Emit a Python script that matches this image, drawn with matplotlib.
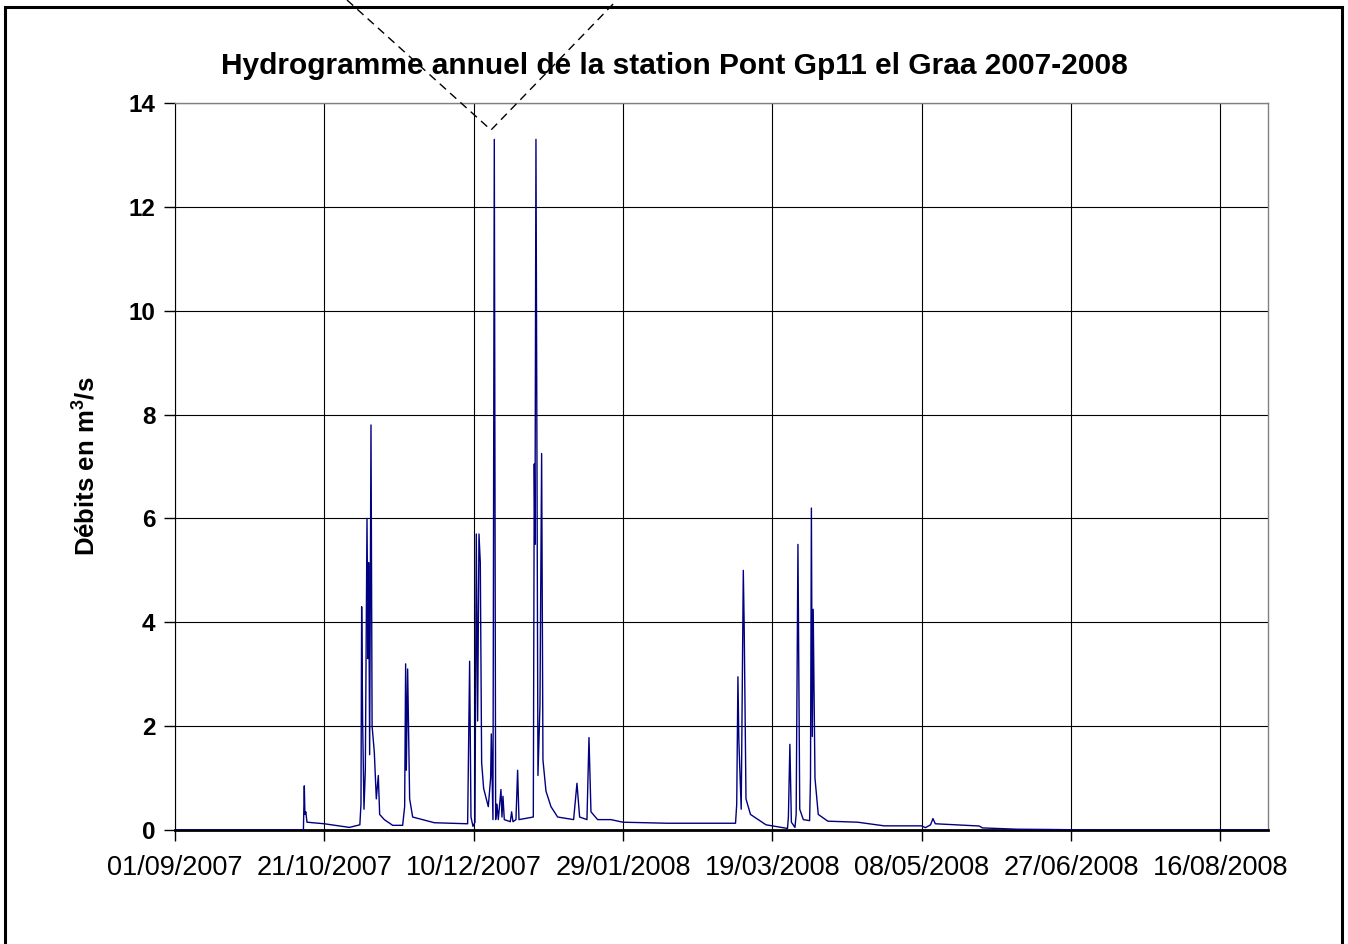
import matplotlib
matplotlib.use('Agg')
import matplotlib.pyplot as plt
import matplotlib.dates as mdates
from matplotlib.lines import Line2D
from matplotlib.patches import Rectangle
import pandas as pd

plt.rcParams['font.family'] = ['Liberation Sans', 'DejaVu Sans']
plt.rcParams['mathtext.fontset'] = 'custom'
plt.rcParams['mathtext.bf'] = 'Liberation Sans:bold'
plt.rcParams['mathtext.rm'] = 'Liberation Sans'

# ── DATA ───────────────────────────────────────────────
start = pd.Timestamp('2007-09-01')
end = pd.Timestamp('2008-09-01')

# time in days since 01/09/2007 (flood events have several readings per day)
days = [0, 43.0, 43.3, 43.5, 43.8, 44.2, 50, 58.4, 61.9,
        62.28, 62.5, 62.83, 63.28, 63.73, 64.29, 64.62, 64.84, 65.18, 65.63,
        66.0, 66.74, 67.41, 68.08, 68.53, 70.09, 72.88, 76.23, 76.9, 77.23,
        77.46, 77.9, 78.57, 79.58, 86.83, 97.99, 98.66, 99.11, 99.78, 100.45,
        100.89, 101.34, 101.79, 102.23, 102.68, 103.35, 104.91, 105.69, 105.92,
        106.47, 106.92, 107.37, 107.81, 108.26, 109.15, 109.49, 109.82, 110.27,
        112.28, 112.72, 113.17, 114.17, 114.73, 115.18, 119.98, 120.31, 120.54,
        120.87, 121.54, 122.21, 122.77, 123.21, 124.22, 125.89, 128.13, 133.48,
        134.6, 135.49, 137.95, 138.62, 139.29, 141.52, 145.98, 150, 165,
        187.7, 188.1, 188.5, 188.8, 189.0, 189.6, 190.3, 190.6, 191.2, 192.7,
        197.9, 205.1, 205.4, 205.9, 206.4, 207.6, 208.0, 208.6, 209.2, 210.4,
        212.5, 212.8, 213.1, 213.4, 213.7, 214.3, 215.4, 218.6, 228.6, 237.5,
        250, 251.3, 253.0, 253.8, 254.6, 269.3, 270.4, 282.1, 293, 300, 310, 366]

debits = [0, 0, 0.85, 0.3, 0.35, 0.15, 0.12, 0.05, 0.1,
          0.5, 4.3, 2.1, 0.4, 1.15, 6.0, 3.3, 5.15, 1.45, 7.8,
          2.0, 1.5, 0.6, 1.05, 0.3, 0.2, 0.09, 0.09, 0.45, 3.2,
          1.15, 3.1, 0.6, 0.25, 0.14, 0.12, 3.25, 0.25, 0.07, 0.15,
          5.7, 2.1, 5.7, 5.15, 1.3, 0.8, 0.45, 1.0, 1.85,
          0.2, 13.3, 0.2, 0.5, 0.2, 0.78, 0.25, 0.65, 0.2,
          0.16, 0.35, 0.16, 0.2, 1.15, 0.2, 0.25, 7.05, 5.5,
          13.3, 1.05, 2.4, 7.25, 1.35, 0.75, 0.45, 0.25, 0.2,
          0.9, 0.25, 0.2, 1.78, 0.35, 0.2, 0.2, 0.15, 0.13,
          0.13, 0.5, 2.95, 1.75, 1.4, 0.4, 5.0, 3.9, 0.6, 0.3,
          0.1, 0.03, 0.25, 1.65, 0.15, 0.05, 0.3, 5.5, 0.4, 0.2,
          0.18, 1.0, 6.2, 1.8, 4.25, 1.0, 0.3, 0.17, 0.15, 0.08,
          0.08, 0.045, 0.1, 0.22, 0.12, 0.077, 0.04, 0.015, 0.01, 0.005, 0, 0]

tick_step_days = 50
y_ticks = [0, 2, 4, 6, 8, 10, 12, 14]

dates = [start + pd.Timedelta(days=d) for d in days]

# ── CHART ─────────────────────────────────────────────
W, H = 1348, 944
fig = plt.figure(figsize=(W / 100, H / 100), dpi=100)
ax = fig.add_axes([175 / W, 1 - 830 / H, (1268 - 175) / W, (830 - 103) / H])

ax.plot(dates, debits, color='#000080', linewidth=1.0, zorder=3)

ax.set_xlim(start, end)
ax.set_ylim(0, 14)
ax.set_yticks(y_ticks)
xticks = pd.date_range(start, end - pd.Timedelta(days=1), freq=f'{tick_step_days}D')
ax.set_xticks(xticks)
ax.xaxis.set_major_formatter(mdates.DateFormatter('%d/%m/%Y'))

ax.grid(True, color='black', linewidth=0.8)
ax.set_axisbelow(True)
for s in ['top', 'right']:
    ax.spines[s].set_color('#808080')
    ax.spines[s].set_linewidth(1.0)
ax.spines['left'].set_color('black')
ax.spines['bottom'].set_color('black')
ax.spines['bottom'].set_linewidth(2.0)

ax.tick_params(axis='x', direction='out', length=8, width=1, labelsize=19.5, pad=10)
ax.tick_params(axis='y', direction='out', length=8, width=1, labelsize=17.5, pad=6)
for lab in ax.get_yticklabels():
    lab.set_fontweight('bold')

ax.set_ylabel(r'Débits en m$^{\mathbf{3}}$/s', fontsize=18.5, fontweight='bold', labelpad=21)

fig.text(0.5, 1 - 66 / H, 'Hydrogramme annuel de la station Pont Gp11 el Graa 2007-2008',
         ha='center', va='center', fontsize=21.5, fontweight='bold')

# chart area border
fig.patches.append(Rectangle((5 / W, -0.01), (1342 - 5) / W, 1.01 - 7 / H,
                             transform=fig.transFigure, fill=False,
                             edgecolor='black', linewidth=2.2))

# dashed V shape drawn over the chart
fig.lines.append(Line2D([347 / W, 491 / W, 617 / W], [1.0, 1 - 130 / H, 1.0],
                        transform=fig.transFigure, color='black',
                        linestyle=(0, (6, 4)), linewidth=1.0, zorder=10))

plt.savefig('out.png', dpi=100)
plt.close()
